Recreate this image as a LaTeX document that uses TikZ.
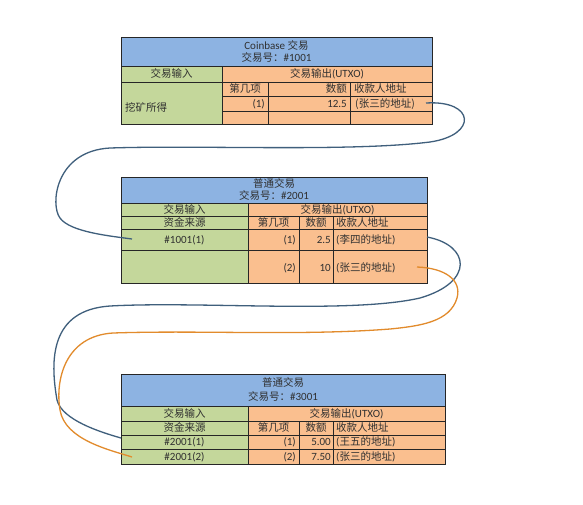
\documentclass[tikz,border=0pt]{standalone}
\usepackage{fontspec}
\setmainfont{Carlito}[Scale=1.05]
\newfontfamily\cjk{Noto Sans CJK SC}
\definecolor{hdrblue}{HTML}{8DB3E2}
\definecolor{ingreen}{HTML}{C4D79B}
\definecolor{outorange}{HTML}{FABF8F}
\definecolor{linkblue}{HTML}{3F5F7C}
\definecolor{linkorange}{HTML}{E28B2C}
\definecolor{txt}{HTML}{303030}
\tikzset{
  grid/.style={draw=black!85, line width=0.8pt},
  lbl/.style={inner sep=0pt, text=txt, font=\fontsize{10.5pt}{12pt}\selectfont, text height=8pt, text depth=1pt},
  lblr/.style={lbl, anchor=east},
  lbll/.style={lbl, anchor=west},
  bluelink/.style={draw=linkblue, line width=1.3pt},
  orangelink/.style={draw=linkorange, line width=1.3pt}
}
\begin{document}
\begin{tikzpicture}[x=1pt, y=-1pt]
\useasboundingbox[fill=white] (0,0) rectangle (583,504);

% ---------- Table 1 ----------
\fill[hdrblue] (121,37) rectangle (432,66);
\fill[ingreen] (121,66) rectangle (222,124);
\fill[outorange] (222,66) rectangle (432,124);
\draw[grid] (121,37) rectangle (432,124);
\draw[grid] (121,66) -- (432,66);
\draw[grid] (121,82) -- (432,82);
\draw[grid] (222,96) -- (432,96);
\draw[grid] (222,111) -- (432,111);
\draw[grid] (222,66) -- (222,124);
\draw[grid] (268,82) -- (268,124);
\draw[grid] (350,82) -- (350,124);

\node[lbl] (t1h1) at (276.5,46) {Coinbase {\cjk 交易}};
\node[lbl] (t1h2) at (276.5,58) {{\cjk 交易号：}\#1001};
\node[lbl] (t1in) at (171.5,74) {{\cjk 交易输入}};
\node[lbl] (t1out) at (327,74) {{\cjk 交易输出}(UTXO)};
\node[lbll] (t1src) at (125,108) {{\cjk 挖矿所得}};
\node[lbl] (t1c1) at (245,89) {{\cjk 第几项}};
\node[lblr] (t1c2) at (347,89) {{\cjk 数额}};
\node[lbll] (t1c3) at (354,89) {{\cjk 收款人地址}};
\node[lblr] (t1r1) at (265,103.5) {(1)};
\node[lblr] (t1r2) at (347,103.5) {12.5};
\node[lbll] (t1r3) at (355,103.5) {{\cjk (张三的地址)}};

% ---------- Table 2 ----------
\fill[hdrblue] (121,177) rectangle (427,203);
\fill[ingreen] (121,203) rectangle (248,283);
\fill[outorange] (248,203) rectangle (427,283);
\draw[grid] (121,177) rectangle (427,283);
\draw[grid] (121,203) -- (427,203);
\draw[grid] (121,216) -- (427,216);
\draw[grid] (121,229) -- (427,229);
\draw[grid] (121,250) -- (427,250);
\draw[grid] (248,203) -- (248,283);
\draw[grid] (299,216) -- (299,283);
\draw[grid] (333,216) -- (333,283);

\node[lbl] (t2h1) at (274,184) {{\cjk 普通交易}};
\node[lbl] (t2h2) at (274,196) {{\cjk 交易号：}\#2001};
\node[lbl] (t2in) at (184.5,209.5) {{\cjk 交易输入}};
\node[lbl] (t2out) at (337.5,209.5) {{\cjk 交易输出}(UTXO)};
\node[lbl] (t2src) at (184.5,222.5) {{\cjk 资金来源}};
\node[lbl] (t2c1) at (273.5,222.5) {{\cjk 第几项}};
\node[lbl] (t2c2) at (316,222.5) {{\cjk 数额}};
\node[lbll] (t2c3) at (336,222.5) {{\cjk 收款人地址}};
\node[lbl] (t2i1) at (184.5,239.5) {\#1001(1)};
\node[lblr] (t2a1) at (296,239.5) {(1)};
\node[lblr] (t2b1) at (331,239.5) {2.5};
\node[lbll] (t2d1) at (336,239.5) {({\cjk 李四的地址})};
\node[lblr] (t2a2) at (296,268) {(2)};
\node[lblr] (t2b2) at (331,268) {10};
\node[lbll] (t2d2) at (336,268) {({\cjk 张三的地址})};

% ---------- Table 3 ----------
\fill[hdrblue] (121,374) rectangle (445,406);
\fill[ingreen] (121,406) rectangle (248,464);
\fill[outorange] (248,406) rectangle (445,464);
\draw[grid] (121,374) rectangle (445,464);
\draw[grid] (121,406) -- (445,406);
\draw[grid] (121,421) -- (445,421);
\draw[grid] (121,435) -- (445,435);
\draw[grid] (121,449) -- (445,449);
\draw[grid] (248,406) -- (248,464);
\draw[grid] (299,421) -- (299,464);
\draw[grid] (333,421) -- (333,464);

\node[lbl] (t3h1) at (283,383) {{\cjk 普通交易}};
\node[lbl] (t3h2) at (283,397) {{\cjk 交易号：}\#3001};
\node[lbl] (t3in) at (184.5,413.5) {{\cjk 交易输入}};
\node[lbl] (t3out) at (346.5,413.5) {{\cjk 交易输出}(UTXO)};
\node[lbl] (t3src) at (184.5,428) {{\cjk 资金来源}};
\node[lbl] (t3c1) at (273.5,428) {{\cjk 第几项}};
\node[lbl] (t3c2) at (316,428) {{\cjk 数额}};
\node[lbll] (t3c3) at (336,428) {{\cjk 收款人地址}};
\node[lbl] (t3i1) at (184.5,442) {\#2001(1)};
\node[lblr] (t3a1) at (296,442) {(1)};
\node[lblr] (t3b1) at (331,442) {5.00};
\node[lbll] (t3d1) at (336,442) {({\cjk 王五的地址})};
\node[lbl] (t3i2) at (184.5,456.5) {\#2001(2)};
\node[lblr] (t3a2) at (296,456.5) {(2)};
\node[lblr] (t3b2) at (331,456.5) {7.50};
\node[lbll] (t3d2) at (336,456.5) {({\cjk 张三的地址})};

% ---------- connectors ----------
\coordinate (c1s) at (426,103);
\coordinate (c1e) at (132,239);
\coordinate (c2s) at (427,237);
\coordinate (c2e) at (121,438);
\coordinate (c3s) at (417,267);
\coordinate (c3e) at (132,457);

\draw[bluelink] (c1s) .. controls (475,100) and (478,135) .. (430,142)
  .. controls (350,152) and (200,145) .. (110,148)
  .. controls (55,151) and (50,205) .. (60,218)
  .. controls (70,232) and (110,236) .. (c1e);

\draw[bluelink] (c2s) .. controls (470,245) and (475,282) .. (420,298)
  .. controls (350,314) and (200,301) .. (110,306)
  .. controls (50,310) and (50,360) .. (57,400)
  .. controls (62,420) and (100,432) .. (c2e);

\draw[orangelink] (c3s) .. controls (445,268) and (462,280) .. (457,298)
  .. controls (450,322) and (420,326) .. (390,329)
  .. controls (300,336) and (200,330) .. (113,333)
  .. controls (65,336) and (55,380) .. (60,410)
  .. controls (65,440) and (110,450) .. (c3e);
\end{tikzpicture}
\end{document}
